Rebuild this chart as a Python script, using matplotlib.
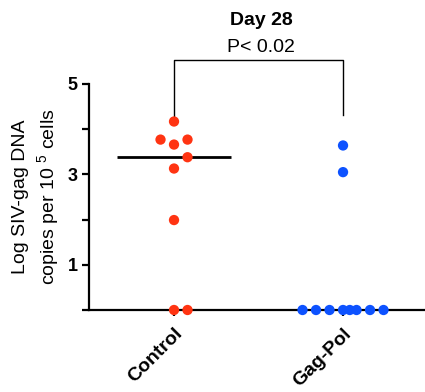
import matplotlib
matplotlib.use("Agg")
import matplotlib.pyplot as plt
import numpy as np

plt.rcParams['font.family'] = ['Liberation Sans', 'DejaVu Sans']
plt.rcParams['mathtext.fontset'] = 'custom'
plt.rcParams['mathtext.rm'] = 'Liberation Sans'

categories = ["Control", "Gag-Pol"]
control_vals = [4.17, 3.66, 3.77, 3.77, 3.38, 3.13, 1.99, 0.0, 0.0]
gagpol_vals = [3.64, 3.05, 0.0, 0.0, 0.0, 0.0, 0.0, 0.0, 0.0, 0.0]
colors = ["#FF3412", "#0D52FF"]
title = "Day 28"
p_text = "P< 0.02"
yticks = [1, 3, 5]

fig = plt.figure(figsize=(4.25, 3.92), dpi=100)
W, H = 425, 392
ax = fig.add_axes([89 / W, (H - 310) / H, (W - 89) / W, (310 - 84) / H])
ax.set_xlim(-0.503, 1.485)
ax.set_ylim(0, 5)

# pixel scales
px_x = ax.bbox.width / (1.485 + 0.503)
px_y = ax.bbox.height / 5.0

def swarm(vals, step_px=13.5, max_k=3, coll_px=13.0):
    placed = []
    offs = []
    for v in vals:
        chosen = None
        cands = [0]
        for k in range(1, max_k + 1):
            cands += [k, -k]
        for k in cands:
            ox = k * step_px
            ok = True
            for (px, py) in placed:
                if np.hypot(px - ox, (py - v) * px_y) < coll_px:
                    ok = False
                    break
            if ok:
                chosen = ox
                break
        if chosen is None:
            for k in [0.5, -0.5, 1.5, -1.5, 2.5, -2.5]:
                ox = k * step_px
                if all(abs(px - ox) > 1 or abs(py - v) * px_y > 1 for (px, py) in placed):
                    chosen = ox
                    break
        placed.append((chosen, v))
        offs.append(chosen / px_x)
    return np.array(offs)

groups = [control_vals, gagpol_vals]
for i, vals in enumerate(groups):
    med = np.median(vals)
    ax.plot([i - 0.34, i + 0.34], [med, med], color="black", lw=2.0, zorder=1,
            solid_capstyle="butt", clip_on=True)
    offs = swarm(vals)
    ax.scatter(i + offs, vals, s=55, color=colors[i], edgecolors="none",
               zorder=3, clip_on=False)

for s in ["top", "right"]:
    ax.spines[s].set_visible(False)
for s in ["left", "bottom"]:
    ax.spines[s].set_linewidth(1.6)

ax.set_yticks([0, 1, 2, 3, 4, 5])
ax.set_yticklabels(["" if t not in yticks else str(t) for t in range(6)],
                   fontsize=13, fontweight="bold")
ax.tick_params(axis="y", length=5, width=1.6, pad=3)
ax.set_xticks([0, 1])
ax.set_xticklabels(categories, rotation=45, ha="right", rotation_mode="anchor",
                   fontsize=14, fontweight="bold")
ax.tick_params(axis="x", length=4, width=1.6, pad=7)

ax.set_ylabel("Log SIV-gag DNA\ncopies per 10 $^{5}$ cells", fontsize=14,
              linespacing=1.35, labelpad=4)

# significance bracket
by = 5.52
ax.plot([0, 0, 1, 1], [4.3, by, by, 4.32], color="black", lw=1.0, clip_on=False)
ax.text(0.515, by + 0.1, p_text, ha="center", va="bottom", fontsize=14)
ax.text(0.515, 6.4, title, ha="center", va="center", fontsize=14, fontweight="bold")

fig.savefig("out.png", dpi=100)
